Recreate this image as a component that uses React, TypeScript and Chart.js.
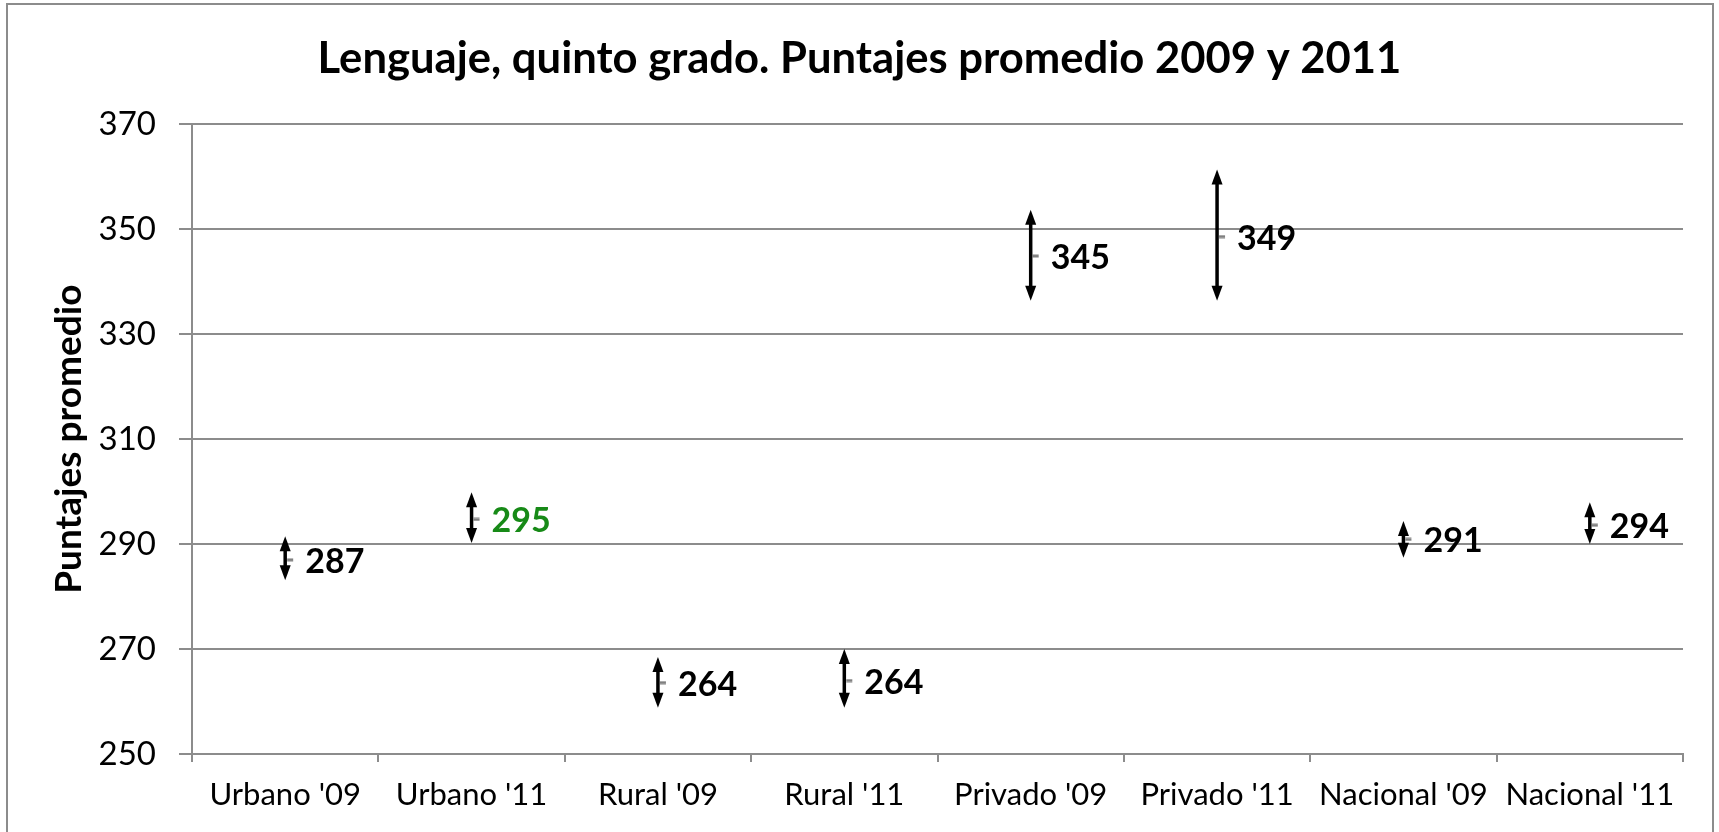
import React, { useEffect, useRef } from "react";
import { Chart, registerables } from "chart.js";

Chart.register(...registerables);

const categories = ["Urbano '09", "Urbano '11", "Rural '09", "Rural '11", "Privado '09", "Privado '11", "Nacional '09", "Nacional '11"];
const scores = [287, 294.7, 263.6, 264, 344.9, 348.6, 290.9, 293.6];
const errUp = [4.5, 5.2, 4.9, 6.0, 8.8, 12.8, 3.5, 4.4];
const errDown = [3.9, 4.5, 4.8, 5.2, 8.5, 12.2, 3.5, 3.6];
const labelColors = ["#000000", "#178A17", "#000000", "#000000", "#000000", "#000000", "#000000", "#000000"];
const yMin = 250;
const yMax = 370;
const yStep = 20;

const titleText = "Lenguaje, quinto grado. Puntajes promedio 2009 y 2011";
const yTitleText = "Puntajes promedio";

const GRID = "#8c8c8c";
const FONT = "Lato, 'Open Sans', sans-serif";

function makeDash(): HTMLCanvasElement {
  const c = document.createElement("canvas");
  c.width = 24;
  c.height = 4;
  const g = c.getContext("2d")!;
  g.fillStyle = "#808080";
  g.fillRect(14, 0.5, 6, 3);
  return c;
}

const errorArrows = {
  id: "errorArrows",
  afterDatasetsDraw(chart: any) {
    const ctx = chart.ctx;
    const yScale = chart.scales.y;
    const meta = chart.getDatasetMeta(0);
    ctx.save();
    meta.data.forEach((pt: any, i: number) => {
      const x = pt.x;
      const yTop = yScale.getPixelForValue(scores[i] + errUp[i]);
      const yBot = yScale.getPixelForValue(scores[i] - errDown[i]);
      const head = 15;
      const hw = 5.5;
      ctx.strokeStyle = "#000";
      ctx.fillStyle = "#000";
      ctx.lineWidth = 3.5;
      ctx.beginPath();
      ctx.moveTo(x, yTop + head - 2);
      ctx.lineTo(x, yBot - head + 2);
      ctx.stroke();
      ctx.beginPath();
      ctx.moveTo(x, yTop);
      ctx.lineTo(x - hw, yTop + head);
      ctx.lineTo(x + hw, yTop + head);
      ctx.closePath();
      ctx.fill();
      ctx.beginPath();
      ctx.moveTo(x, yBot);
      ctx.lineTo(x - hw, yBot - head);
      ctx.lineTo(x + hw, yBot - head);
      ctx.closePath();
      ctx.fill();
    });
    // data labels
    ctx.font = `bold 34px ${FONT}`;
    ctx.textAlign = "left";
    ctx.textBaseline = "middle";
    meta.data.forEach((pt: any, i: number) => {
      ctx.fillStyle = labelColors[i];
      ctx.fillText(String(Math.round(scores[i])), pt.x + 20, pt.y + 2);
    });
    ctx.restore();
  },
};

export default function App() {
  const ref = useRef<HTMLCanvasElement>(null);

  useEffect(() => {
    const dash = makeDash();
    const chart = new Chart(ref.current!, {
      type: "line",
      data: {
        labels: categories,
        datasets: [
          {
            label: "Puntaje",
            data: scores,
            showLine: false,
            pointStyle: dash as any,
            pointRadius: 6,
            borderColor: "#808080",
            backgroundColor: "#808080",
          },
        ],
      },
      options: {
        animation: false,
        responsive: false,
        events: [],
        layout: { padding: { top: 0, left: 0, right: 0, bottom: 0 } },
        plugins: {
          legend: { display: false },
          tooltip: { enabled: false },
          title: {
            display: true,
            text: titleText,
            color: "#000",
            font: { family: FONT, size: 43.6, weight: "bold", lineHeight: 1.2 },
            padding: { top: 33, bottom: 39 },
          },
        },
        scales: {
          x: {
            type: "category",
            offset: true,
            afterFit: (s: any) => {
              s.height = 78;
            },
            grid: {
              offset: true,
              drawOnChartArea: false,
              drawTicks: true,
              tickLength: 8,
              color: GRID,
              lineWidth: 2,
            },
            border: { display: true, color: GRID, width: 2 },
            ticks: {
              color: "#000",
              font: { family: FONT, size: 31, lineHeight: 1.2 },
              padding: 14,
              maxRotation: 0,
              autoSkip: false,
            },
          },
          y: {
            min: yMin,
            max: yMax,
            afterFit: (s: any) => {
              s.width = 192;
            },
            grid: {
              color: GRID,
              lineWidth: 2,
              drawTicks: true,
              tickLength: 13,
            },
            border: { display: true, color: GRID, width: 2 },
            ticks: {
              stepSize: yStep,
              color: "#000",
              font: { family: FONT, size: 33 },
              padding: 23,
            },
            title: {
              display: true,
              text: yTitleText,
              color: "#000",
              font: { family: FONT, size: 37, weight: "bold", lineHeight: 1.2 },
              padding: { top: 47, bottom: 0 },
            },
          },
          yRight: {
            position: "right",
            min: yMin,
            max: yMax,
            afterFit: (s: any) => {
              s.width = 36;
            },
            grid: { display: false, drawOnChartArea: false, drawTicks: false },
            border: { display: false },
            ticks: { display: false },
          },
        },
      },
      plugins: [errorArrows],
    });
    return () => chart.destroy();
  }, []);

  return (
    <div
      style={{
        position: "fixed",
        left: 0,
        top: 0,
        width: 1719,
        height: 832,
        overflow: "hidden",
        background: "#fff",
      }}
    >
      <canvas ref={ref} width={1719} height={832} style={{ position: "absolute", left: 0, top: 0 }} />
      <div
        style={{
          position: "absolute",
          left: 6,
          top: 3,
          width: 1708,
          height: 900,
          border: `2px solid ${GRID}`,
          boxSizing: "border-box",
          pointerEvents: "none",
        }}
      />
    </div>
  );
}
